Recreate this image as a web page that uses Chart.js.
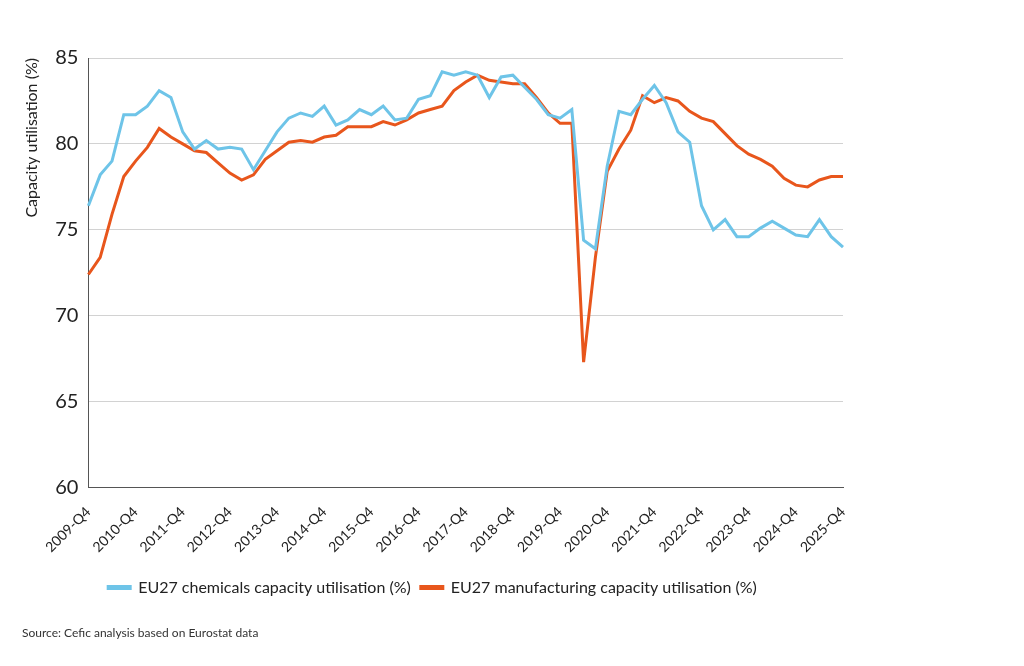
<!DOCTYPE html>
<html>
<head>
<meta charset="utf-8">
<script src="https://cdn.jsdelivr.net/npm/chart.js@4"></script>
<style>
  html, body { margin: 0; padding: 0; background: #fff; }
  #wrap { width: 1024px; height: 666px; }
</style>
</head>
<body>
<div id="wrap"><canvas id="line-chart"></canvas></div>
<script>
var quarters = [];
for (var y = 2009; y <= 2025; y++) {
  ["Q1", "Q2", "Q3", "Q4"].forEach(function (q) {
    if (y === 2009 && q !== "Q4") return;
    quarters.push(y + "-" + q);
  });
}

var chemicals = [
  76.4, 78.2, 79.0, 81.7, 81.7, 82.2, 83.1, 82.7, 80.7, 79.7,
  80.2, 79.7, 79.8, 79.7, 78.5, 79.6, 80.7, 81.5, 81.8, 81.6,
  82.2, 81.1, 81.4, 82.0, 81.7, 82.2, 81.4, 81.5, 82.6, 82.8,
  84.2, 84.0, 84.2, 84.0, 82.7, 83.9, 84.0, 83.3, 82.6, 81.7,
  81.5, 82.0, 74.4, 73.9, 78.7, 81.9, 81.7, 82.6, 83.4, 82.4,
  80.7, 80.1, 76.4, 75.0, 75.6, 74.6, 74.6, 75.1, 75.5, 75.1,
  74.7, 74.6, 75.6, 74.6, 74.0
];

var manufacturing = [
  72.4, 73.4, 75.9, 78.1, 79.0, 79.8, 80.9, 80.4, 80.0, 79.6,
  79.5, 78.9, 78.3, 77.9, 78.2, 79.1, 79.6, 80.1, 80.2, 80.1,
  80.4, 80.5, 81.0, 81.0, 81.0, 81.3, 81.1, 81.4, 81.8, 82.0,
  82.2, 83.1, 83.6, 84.0, 83.7, 83.6, 83.5, 83.5, 82.7, 81.8,
  81.2, 81.2, 67.3, 73.4, 78.4, 79.7, 80.8, 82.8, 82.4, 82.7,
  82.5, 81.9, 81.5, 81.3, 80.6, 79.9, 79.4, 79.1, 78.7, 78.0,
  77.6, 77.5, 77.9, 78.1, 78.1
];

var yTicks = [60, 65, 70, 75, 80, 85];

var config = {
  type: "line",
  data: {
    labels: quarters,
    datasets: [
      {
        label: "EU27 chemicals capacity utilisation (%)",
        data: chemicals,
        borderColor: "#6ec4e8",
        backgroundColor: "#6ec4e8",
        borderWidth: 3,
        pointRadius: 0,
        tension: 0,
        fill: false,
      },
      {
        label: "EU27 manufacturing capacity utilisation (%)",
        data: manufacturing,
        borderColor: "#e8561c",
        backgroundColor: "#e8561c",
        borderWidth: 3,
        pointRadius: 0,
        tension: 0,
        fill: false,
      },
    ],
  },
  options: {
    responsive: true,
    maintainAspectRatio: false,
    animation: false,
    layout: {
      padding: { left: 22, right: 181, top: 58, bottom: 26 },
    },
    scales: {
      x: {
        grid: { display: false },
        border: { display: true, color: "#555", width: 1 },
        ticks: {
          autoSkip: false,
          maxRotation: 45,
          minRotation: 45,
          color: "#222",
          font: { family: "Lato", size: 14 },
          padding: 8,
          callback: function (val, idx) {
            return idx % 4 === 0 ? quarters[idx] : null;
          },
        },
        afterFit: function (axis) {
          // leave room between the slanted labels and the legend
          axis.height = 82;
        },
      },
      y: {
        min: yTicks[0],
        max: yTicks[yTicks.length - 1],
        afterBuildTicks: function (axis) {
          axis.ticks = yTicks.map(function (v) { return { value: v }; });
        },
        grid: { color: "#d2d2d2", drawTicks: false },
        border: { display: true, color: "#555", width: 1 },
        ticks: {
          color: "#222",
          font: { family: "Lato", size: 20 },
          padding: 10,
        },
        title: {
          display: true,
          text: "Capacity utilisation (%)",
          align: "end",
          color: "#222",
          font: { family: "Lato", size: 16 },
          padding: { top: 0, bottom: 4 },
        },
      },
    },
    plugins: {
      legend: {
        display: true,
        position: "bottom",
        labels: {
          boxWidth: 22,
          boxHeight: 2,
          color: "#222",
          font: { family: "Lato", size: 16 },
          padding: 10,
        },
      },
      subtitle: {
        display: true,
        text: "Source: Cefic analysis based on Eurostat data",
        position: "bottom",
        align: "start",
        color: "#333",
        font: { family: "Lato", size: 12 },
        padding: { top: 20, bottom: 0 },
      },
      tooltip: { enabled: false },
    },
  },
};

var ctxOne = document.getElementById("line-chart").getContext("2d");
new Chart(ctxOne, config);
</script>
</body>
</html>
